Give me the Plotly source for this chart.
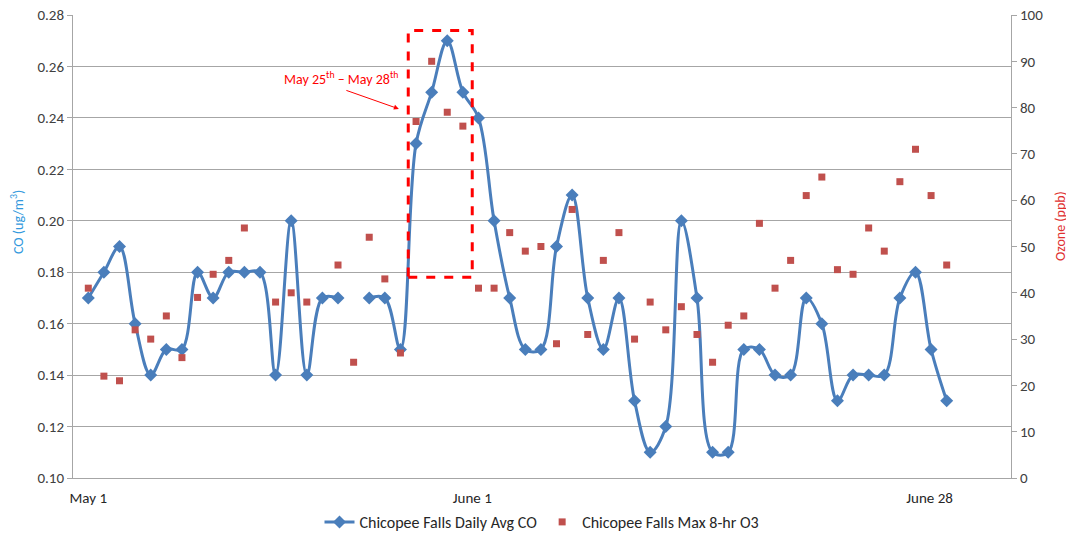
import plotly.graph_objects as go

# daily index (0 = May 1), one value per day shown on the chart
day_idx = list(range(56))

co_daily_avg = [
    0.17, 0.18, 0.19, 0.16, 0.14, 0.15, 0.15, 0.18, 0.17, 0.18,
    0.18, 0.18, 0.14, 0.20, 0.14, 0.17, 0.17, None, 0.17, 0.17,
    0.15, 0.23, 0.25, 0.27, 0.25, 0.24, 0.20, 0.17, 0.15, 0.15,
    0.19, 0.21, 0.17, 0.15, 0.17, 0.13, 0.11, 0.12, 0.20, 0.17,
    0.11, 0.11, 0.15, 0.15, 0.14, 0.14, 0.17, 0.16, 0.13, 0.14,
    0.14, 0.14, 0.17, 0.18, 0.15, 0.13,
]

o3_max_8hr = [
    41, 22, 21, 32, 30, 35, 26, 39, 44, 47,
    54, None, 38, 40, 38, None, 46, 25, 52, 43,
    27, 77, 90, 79, 76, 41, 41, 53, 49, 50,
    29, 58, 31, 47, 53, 30, 38, 32, 37, 31,
    25, 33, 35, 55, 41, 47, 61, 65, 45, 44,
    54, 49, 64, 71, 61, 46,
]

tick_labels = ["May 1", "June 1", "June 28"]
tick_pos = [0, 24.6, 53.9]

FONT = "Liberation Sans Narrow, Carlito, Liberation Sans, sans-serif"
BLUE = "#4a7ebb"
RED = "#c0504d"
GRID = "#a6a6a6"

# the page body adds an 8px margin, so the figure is 8px smaller than the window
W, H = 1066, 531
ML, MR, MT, MB = 65, 63, 7, 61
PW, PH = W - ML - MR, H - MT - MB

fig = go.Figure()

fig.add_trace(go.Scatter(
    x=day_idx, y=co_daily_avg,
    name="Chicopee Falls Daily Avg CO",
    mode="lines+markers",
    line=dict(color=BLUE, width=3, shape="spline", smoothing=1.0),
    marker=dict(symbol="diamond", size=10, color=BLUE),
    connectgaps=False,
))

fig.add_trace(go.Scatter(
    x=day_idx, y=o3_max_8hr,
    name="Chicopee Falls Max 8-hr O3",
    mode="markers",
    marker=dict(symbol="square", size=7, color=RED),
    yaxis="y2",
))

# dashed box around the May 25-28 episode
fig.add_shape(
    type="rect", xref="x", yref="y",
    x0=20.5, x1=24.6, y0=0.178, y1=0.274,
    line=dict(color="#ff0000", width=3, dash="dash"),
)
fig.add_annotation(
    x=16.2, y=0.2555, xref="x", yref="y",
    text="May 25<sup>th</sup> – May 28<sup>th</sup>",
    showarrow=False,
    font=dict(family=FONT, size=14, color="#ff0000"),
)
fig.add_annotation(
    x=19.9, y=0.2435, xref="x", yref="y",
    ax=-54, ay=-19, text="",
    showarrow=True, arrowhead=2, arrowsize=1, arrowwidth=1,
    arrowcolor="#ff0000",
)

# axis titles placed by hand so the plot area stays put
fig.add_annotation(
    x=-56 / PW, y=1 - 207 / PH, xref="paper", yref="paper",
    xanchor="center", yanchor="middle",
    text="CO (ug/m<sup>3</sup>)", textangle=-90, showarrow=False,
    font=dict(family=FONT, size=14, color="#3399dd"),
)
fig.add_annotation(
    x=987 / PW, y=1 - 211 / PH, xref="paper", yref="paper",
    xanchor="center", yanchor="middle",
    text="Ozone (ppb)", textangle=-90, showarrow=False,
    font=dict(family=FONT, size=14, color="#e03030"),
)

fig.update_layout(
    width=W, height=H,
    margin=dict(l=ML, r=MR, t=MT, b=MB, autoexpand=False),
    paper_bgcolor="white", plot_bgcolor="white",
    font=dict(family=FONT, size=15, color="#404040"),
    showlegend=True,
    legend=dict(
        orientation="h", x=0.5, xanchor="center",
        y=-44 / PH, yanchor="middle",
        font=dict(size=16, color="#262626"),
    ),
    xaxis=dict(
        range=[-0.98, 59.12], automargin=False,
        tickmode="array", tickvals=tick_pos, ticktext=tick_labels,
        showgrid=False, zeroline=False,
        showline=True, linecolor=GRID, linewidth=1,
        ticks="", ticklabelstandoff=6, ticklabeloverflow="allow",
        tickfont=dict(size=15, color="#262626"),
    ),
    yaxis=dict(
        range=[0.10, 0.28], dtick=0.02, tickformat=".2f", automargin=False,
        showgrid=True, gridcolor=GRID, gridwidth=1,
        zeroline=False, ticklabeloverflow="allow",
        showline=True, linecolor=GRID, linewidth=1,
        ticks="outside", ticklen=5, tickcolor=GRID,
    ),
    yaxis2=dict(
        range=[0, 100], dtick=10, automargin=False,
        overlaying="y", side="right",
        showgrid=False, zeroline=False, ticklabeloverflow="allow",
        showline=True, linecolor=GRID, linewidth=1,
        ticks="outside", ticklen=5, tickcolor=GRID,
    ),
)

fig.write_html("out.html")
